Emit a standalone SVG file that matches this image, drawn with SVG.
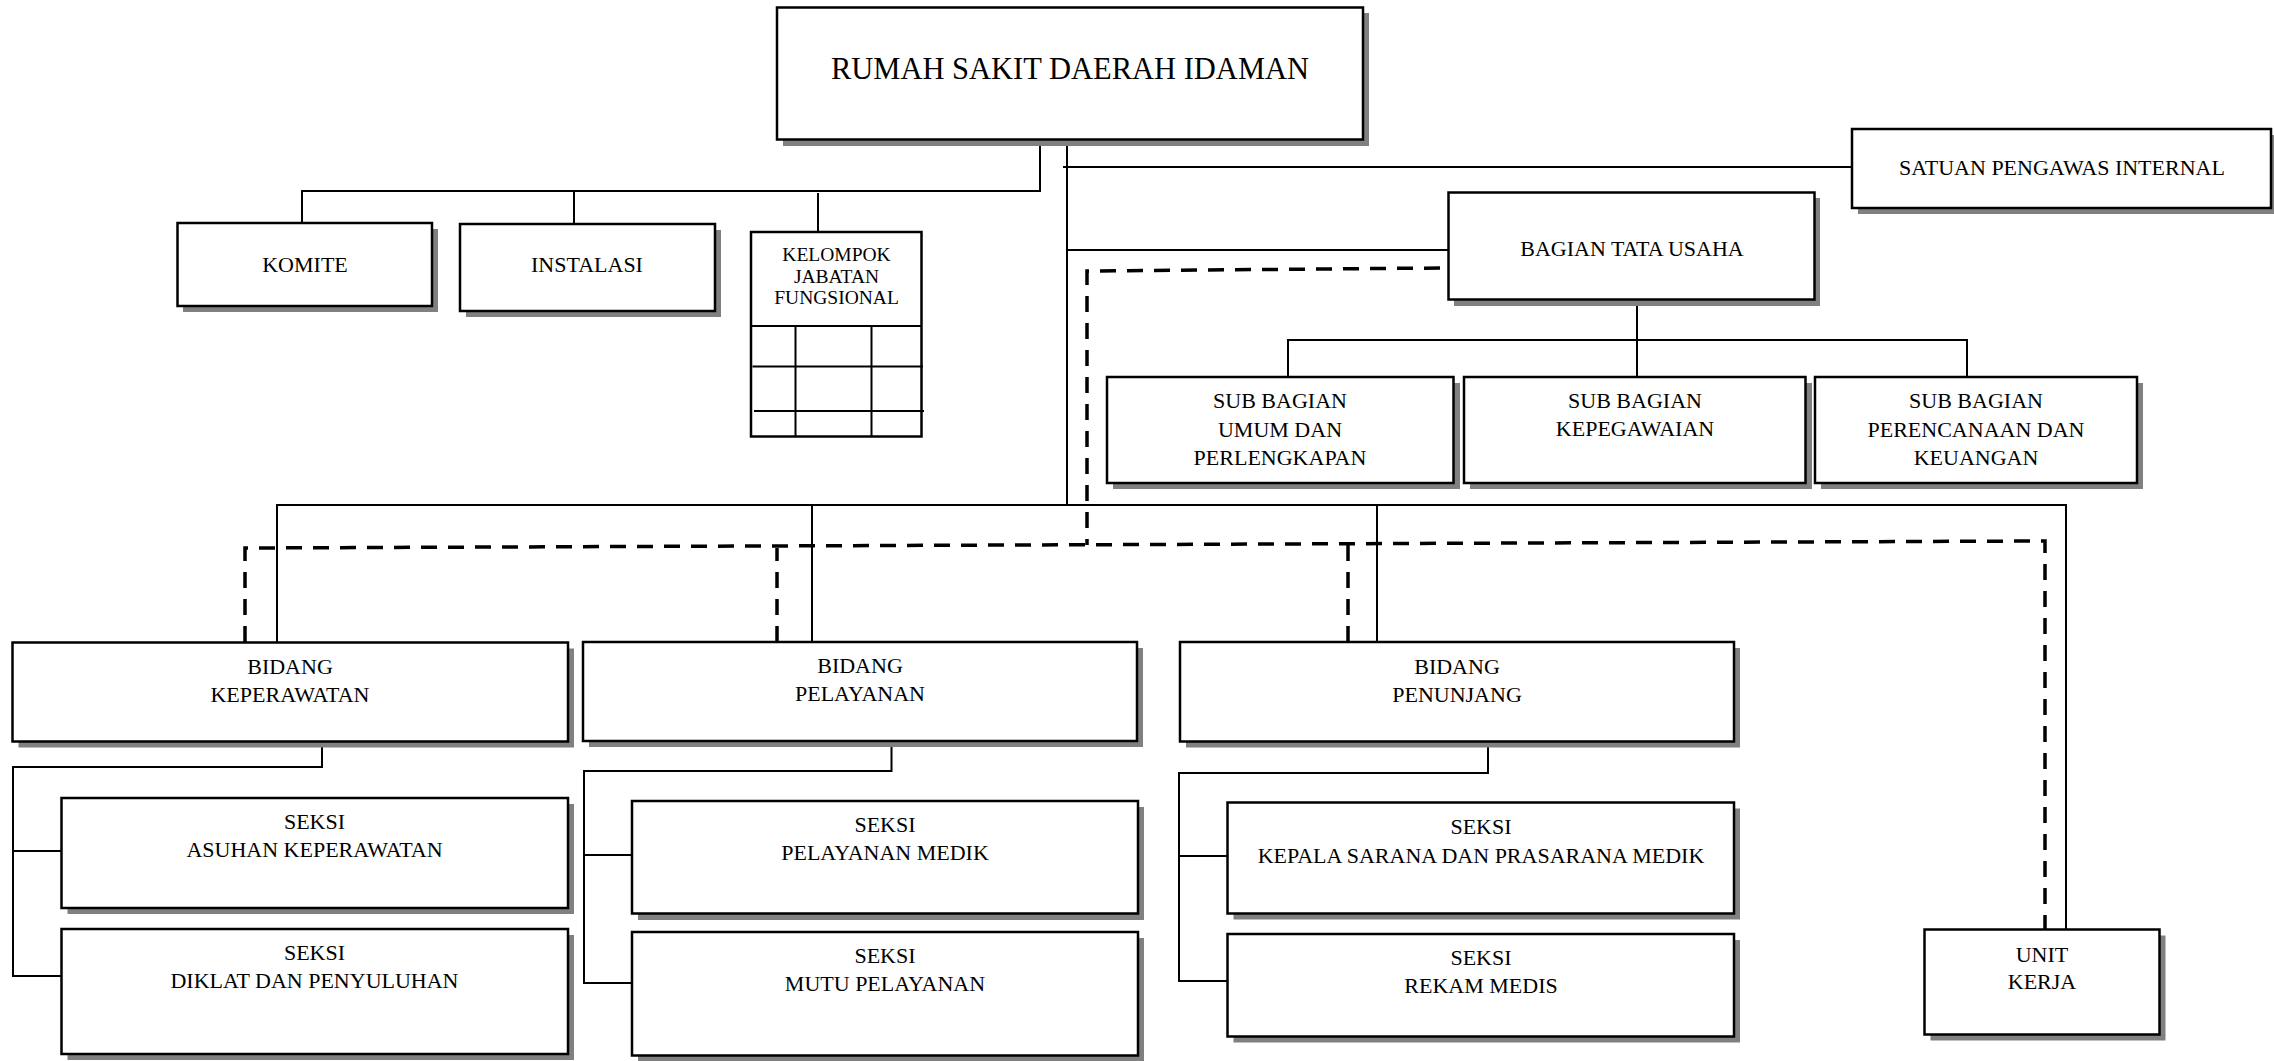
<svg xmlns="http://www.w3.org/2000/svg" width="2274" height="1061" viewBox="0 0 2274 1061">
<style>
  .bg { fill: #ffffff; }
  .box { fill: #ffffff; stroke: #000000; stroke-width: 2.5; }
  .shadow { fill: #808080; }
  .line { fill: none; stroke: #000000; stroke-width: 2; }
  .thin { fill: none; stroke: #000000; stroke-width: 1.8; }
  .dash { fill: none; stroke: #000000; stroke-width: 3.5; stroke-dasharray: 16 11; }
  text { font-family: "Liberation Serif", "Times New Roman", serif; fill: #000000; text-anchor: middle; font-size: 22px; }
  .title { font-size: 30.5px; }
  .small { font-size: 19.5px; }
</style>
<rect class="bg" x="0" y="0" width="2274" height="1061"/>

<g id="connectors">
  <path class="line" d="M1040 140 V191 H302 V223"/>
  <path class="line" d="M574 191 V224"/>
  <path class="line" d="M818 193 V232"/>
  <path class="line" d="M1067 140 V505"/>
  <path class="line" d="M1063 167 H1852"/>
  <path class="line" d="M1067 250 H1448"/>
  <path class="line" d="M1637 299 V340"/>
  <path class="line" d="M1288 377 V340 H1967 V377"/>
  <path class="line" d="M1637 340 V377"/>
  <path class="line" d="M277 642 V505 H2066 V929"/>
  <path class="line" d="M812 505 V642"/>
  <path class="line" d="M1377 505 V642"/>
  <path class="line" d="M322 742 V767 H13 V976 H61"/>
  <path class="line" d="M13 851 H61"/>
  <path class="line" d="M891.5 745 V771 H584 V983 H632"/>
  <path class="line" d="M584 855 H632"/>
  <path class="line" d="M1488 747 V773 H1179 V981 H1227"/>
  <path class="line" d="M1179 856 H1227"/>
  <g id="dashed-lines">
    <path class="dash" d="M1440 268 L1087 271 V545"/>
    <path class="dash" d="M245 642 V548 L2045 541 V929"/>
    <path class="dash" d="M777 642 V548"/>
    <path class="dash" d="M1348 642 V545"/>
  </g>
</g>

<g id="node-rs">
  <rect class="shadow" x="783" y="13" width="586" height="133"/>
  <rect class="box" x="777" y="7.5" width="586" height="132"/>
  <text class="title" x="1070" y="79">RUMAH SAKIT DAERAH IDAMAN</text>
</g>

<g id="node-spi">
  <rect class="shadow" x="1858" y="135" width="420" height="79"/>
  <rect class="box" x="1852" y="129" width="419" height="79"/>
  <text x="2062" y="175">SATUAN PENGAWAS INTERNAL</text>
</g>

<g id="node-komite">
  <rect class="shadow" x="183" y="229" width="255" height="83"/>
  <rect class="box" x="177.5" y="223" width="254.5" height="83"/>
  <text x="305" y="272">KOMITE</text>
</g>

<g id="node-instalasi">
  <rect class="shadow" x="466" y="230" width="255" height="87"/>
  <rect class="box" x="460" y="224" width="255" height="87"/>
  <text x="587" y="272">INSTALASI</text>
</g>

<g id="node-kjf">
  <rect class="box" x="751" y="232" width="170.5" height="204.5"/>
  <path class="line" d="M751 326 H921.5"/>
  <path class="line" d="M752.5 366.5 H923"/>
  <path class="line" d="M754 411 H924"/>
  <path class="line" d="M795.5 326 V436.5"/>
  <path class="line" d="M871.5 326 V436.5"/>
  <text class="small" x="836.5" y="261">KELOMPOK</text>
  <text class="small" x="836.5" y="282.5">JABATAN</text>
  <text class="small" x="836.5" y="303.5">FUNGSIONAL</text>
</g>

<g id="node-btu">
  <rect class="shadow" x="1454" y="198" width="366" height="108"/>
  <rect class="box" x="1448.5" y="192.5" width="366" height="107"/>
  <text x="1632" y="256">BAGIAN TATA USAHA</text>
</g>

<g id="node-sb-umum">
  <rect class="shadow" x="1113" y="383" width="347" height="106"/>
  <rect class="box" x="1107" y="377" width="346.5" height="106"/>
  <text x="1280" y="408">SUB BAGIAN</text>
  <text x="1280" y="437">UMUM DAN</text>
  <text x="1280" y="465">PERLENGKAPAN</text>
</g>

<g id="node-sb-kepegawaian">
  <rect class="shadow" x="1470" y="383" width="342" height="106"/>
  <rect class="box" x="1464" y="377" width="341.5" height="106"/>
  <text x="1635" y="408">SUB BAGIAN</text>
  <text x="1635" y="436">KEPEGAWAIAN</text>
</g>

<g id="node-sb-keuangan">
  <rect class="shadow" x="1821" y="383" width="322" height="106"/>
  <rect class="box" x="1815" y="377" width="322" height="106"/>
  <text x="1976" y="408">SUB BAGIAN</text>
  <text x="1976" y="437">PERENCANAAN DAN</text>
  <text x="1976" y="465">KEUANGAN</text>
</g>

<g id="node-bidang-keperawatan">
  <rect class="shadow" x="18.5" y="648.5" width="555.5" height="99"/>
  <rect class="box" x="12.5" y="642.5" width="555.5" height="99"/>
  <text x="290" y="674">BIDANG</text>
  <text x="290" y="702">KEPERAWATAN</text>
</g>

<g id="node-bidang-pelayanan">
  <rect class="shadow" x="589" y="648" width="554" height="99"/>
  <rect class="box" x="583" y="642" width="554" height="99"/>
  <text x="860" y="673">BIDANG</text>
  <text x="860" y="701">PELAYANAN</text>
</g>

<g id="node-bidang-penunjang">
  <rect class="shadow" x="1186" y="648" width="554" height="99.5"/>
  <rect class="box" x="1180" y="642" width="554" height="99.5"/>
  <text x="1457" y="674">BIDANG</text>
  <text x="1457" y="702">PENUNJANG</text>
</g>

<g id="node-seksi-asuhan">
  <rect class="shadow" x="67.5" y="804" width="506.5" height="110"/>
  <rect class="box" x="61.5" y="798" width="506.5" height="110"/>
  <text x="314.5" y="829">SEKSI</text>
  <text x="314.5" y="857">ASUHAN KEPERAWATAN</text>
</g>

<g id="node-seksi-diklat">
  <rect class="shadow" x="67.5" y="935" width="506.5" height="125"/>
  <rect class="box" x="61.5" y="929" width="506.5" height="125"/>
  <text x="314.5" y="960">SEKSI</text>
  <text x="314.5" y="988">DIKLAT DAN PENYULUHAN</text>
</g>

<g id="node-seksi-medik">
  <rect class="shadow" x="638" y="807" width="506" height="113"/>
  <rect class="box" x="632" y="801" width="506" height="112.5"/>
  <text x="885" y="832">SEKSI</text>
  <text x="885" y="860">PELAYANAN MEDIK</text>
</g>

<g id="node-seksi-mutu">
  <rect class="shadow" x="638" y="938" width="506" height="123"/>
  <rect class="box" x="632" y="932" width="506" height="123.5"/>
  <text x="885" y="963">SEKSI</text>
  <text x="885" y="991">MUTU PELAYANAN</text>
</g>

<g id="node-seksi-sarana">
  <rect class="shadow" x="1233.5" y="808.5" width="506.5" height="111"/>
  <rect class="box" x="1227.5" y="802.5" width="506.5" height="111"/>
  <text x="1481" y="834">SEKSI</text>
  <text x="1481" y="863">KEPALA SARANA DAN PRASARANA MEDIK</text>
</g>

<g id="node-seksi-rekam">
  <rect class="shadow" x="1233.5" y="940" width="506.5" height="102.5"/>
  <rect class="box" x="1227.5" y="934" width="506.5" height="102.5"/>
  <text x="1481" y="965">SEKSI</text>
  <text x="1481" y="993">REKAM MEDIS</text>
</g>

<g id="node-unit-kerja">
  <rect class="shadow" x="1930.5" y="935.5" width="235" height="105"/>
  <rect class="box" x="1924.5" y="929.5" width="235" height="105"/>
  <text x="2042" y="961.5">UNIT</text>
  <text x="2042" y="989">KERJA</text>
</g>
</svg>
